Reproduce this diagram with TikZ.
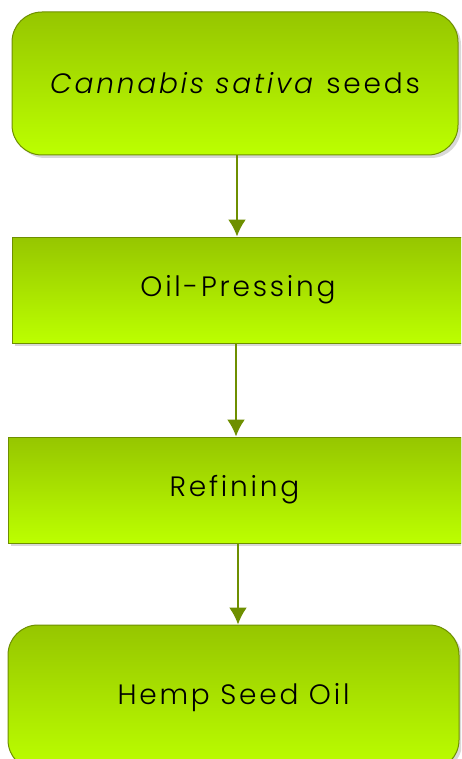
\documentclass[tikz,border=0pt]{standalone}
\usepackage{fontspec}
\setmainfont{Poppins Light}[ItalicFont={Poppins Light Italic},LetterSpace=10]
\usepackage{tikz}
\usetikzlibrary{shadows,arrows.meta}

\definecolor{leafTop}{RGB}{150,198,0}
\definecolor{leafBot}{RGB}{188,255,0}
\definecolor{leafLine}{RGB}{110,143,0}

\tikzset{
  stage/.style={draw=leafLine,line width=1pt,top color=leafTop,bottom color=leafBot,
    drop shadow={shadow xshift=3pt,shadow yshift=-3pt,fill=black!30,opacity=.5},
    font=\fontsize{28}{30}\selectfont,inner sep=0pt},
  ends/.style={stage,rounded corners=30pt},
  flow/.style={draw=leafLine,line width=2pt,-{Latex[length=17pt,width=18pt]}}
}

\begin{document}
\begin{tikzpicture}[x=1pt,y=-1pt]

\useasboundingbox (0,0) rectangle (461,759);
\clip (0,0) rectangle (461,759);

\node [ends,minimum width=446pt,minimum height=143pt] (seeds) at (235,83.5) {\textit{Cannabis sativa} seeds};
\node [stage,minimum width=452pt,minimum height=106pt] (press) at (238,290) {Oil-Pressing};
\node [stage,minimum width=453pt,minimum height=106pt] (refine) at (234.5,490) {Refining};
\node [ends,minimum width=451pt,minimum height=145pt] (oil) at (233.5,697.5) {Hemp Seed Oil};

\draw [flow] ([xshift=2pt]seeds.south) -- ([xshift=2pt]seeds.south |- press.north);
\draw [flow] ([xshift=-2pt]press.south) -- ([xshift=-2pt]press.south |- refine.north);
\draw [flow] ([xshift=3.5pt]refine.south) -- ([xshift=3.5pt]refine.south |- oil.north);

\end{tikzpicture}
\end{document}
